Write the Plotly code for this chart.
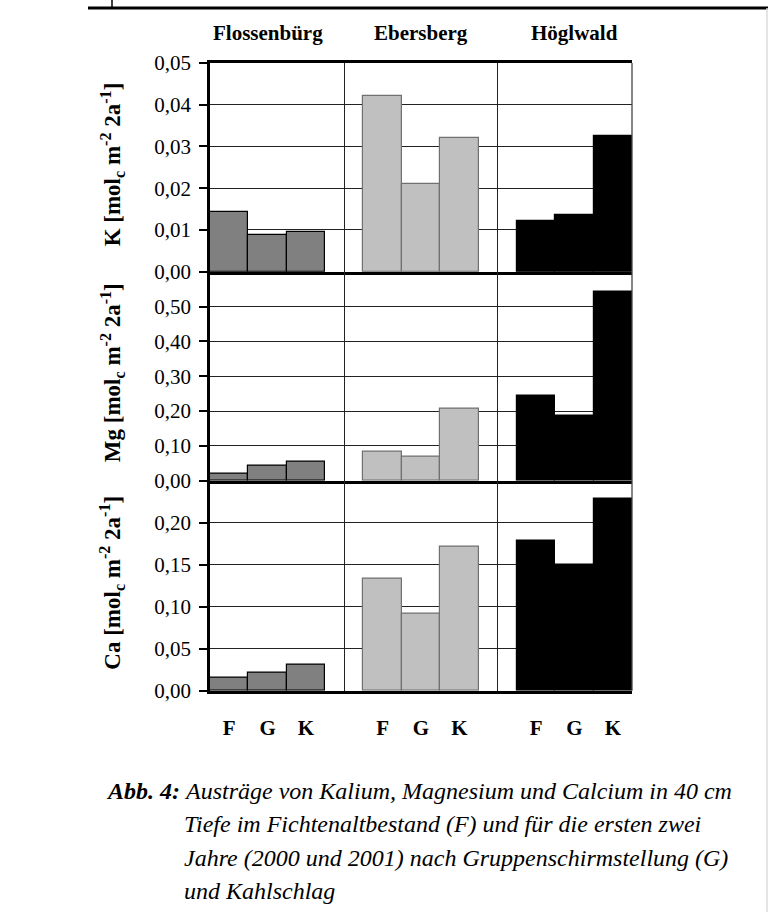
import plotly.graph_objects as go

sites = ["Flossenbürg", "Ebersberg", "Höglwald"]
treatments = ["F", "G", "K"]
site_colors = ["#808080", "#C0C0C0", "#000000"]
site_lines = ["#000000", "#707070", "#000000"]

K_vals = {"Flossenbürg": [0.0142, 0.0087, 0.0094],
          "Ebersberg": [0.0422, 0.0211, 0.0321],
          "Höglwald": [0.0121, 0.0135, 0.0326]}
Mg_vals = {"Flossenbürg": [0.019, 0.044, 0.054],
           "Ebersberg": [0.083, 0.068, 0.206],
           "Höglwald": [0.244, 0.186, 0.543]}
Ca_vals = {"Flossenbürg": [0.015, 0.021, 0.031],
           "Ebersberg": [0.133, 0.092, 0.172],
           "Höglwald": [0.179, 0.150, 0.229]}

panels = [("K", K_vals, [0, 0.05], [0, 0.01, 0.02, 0.03, 0.04, 0.05]),
          ("Mg", Mg_vals, [0, 0.6], [0, 0.1, 0.2, 0.3, 0.4, 0.5]),
          ("Ca", Ca_vals, [0, 0.25], [0, 0.05, 0.1, 0.15, 0.2])]

caption_label = "Abb. 4:"
caption_lines = ["Austräge von Kalium, Magnesium und Calcium in 40 cm",
                 "Tiefe im Fichtenaltbestand (F) und für die ersten zwei",
                 "Jahre (2000 und 2001) nach Gruppenschirmstellung (G)",
                 "und Kahlschlag"]

W, H = 768, 912
def px(x): return x / W
def py(y): return 1 - y / H

x_left, x_right = 210, 632
panel_y = [(63, 271.7), (271.7, 480.7), (480.7, 690.7)]

slot = {}
for i, s in enumerate(sites):
    for j, t in enumerate(treatments):
        slot[(s, t)] = i * 4 + j

fig = go.Figure()
font_serif = "Liberation Serif"

for p, (name, vals, rng, ticks) in enumerate(panels):
    xa = "x" if p == 0 else f"x{p+1}"
    ya = "y" if p == 0 else f"y{p+1}"
    for i, s in enumerate(sites):
        fig.add_trace(go.Bar(
            x=[slot[(s, t)] for t in treatments], y=vals[s], width=1,
            marker=dict(color=site_colors[i], line=dict(color=site_lines[i], width=1.2)),
            xaxis=xa, yaxis=ya, showlegend=False, hoverinfo="x+y"))
    top, bot = panel_y[p]
    xkey = "xaxis" if p == 0 else f"xaxis{p+1}"
    ykey = "yaxis" if p == 0 else f"yaxis{p+1}"
    last = p == 2
    fig.layout[xkey] = dict(
        domain=[px(x_left), px(x_right)], range=[-0.5, 10.5], anchor=ya,
        automargin=False,
        tickmode="array",
        tickvals=[slot[(s, t)] for s in sites for t in treatments],
        ticktext=[f"<b>{t}</b>" for s in sites for t in treatments],
        showticklabels=last, ticks="", showgrid=False, zeroline=False,
        showline=True, linecolor="black", linewidth=2.5,
        mirror=(p == 0),
        tickfont=dict(family=font_serif, size=21, color="black"),
        ticklabelstandoff=16,
        minor=dict(tickmode="array", tickvals=[3, 7], showgrid=True,
                   gridcolor="#222222", gridwidth=1.3, ticks=""),
    )
    fig.layout[ykey] = dict(
        domain=[py(bot), py(top)], range=rng, anchor=xa,
        automargin=False,
        tickmode="array", tickvals=ticks, tickformat=".2f",
        ticks="outside", ticklen=8, tickwidth=2, tickcolor="black",
        showline=True, linecolor="black", linewidth=2.5,
        showgrid=True, gridcolor="#222222", gridwidth=1.1, zeroline=False,
        tickfont=dict(family=font_serif, size=21, color="black"),
        ticklabelstandoff=4,
    )
    fig.add_annotation(
        xref="paper", yref="paper", x=px(112), y=py((top + bot) / 2 - 3),
        xanchor="center", yanchor="middle",
        text=f"<b>{name} [mol<sub>c</sub> m<sup>-2</sup> 2a<sup>-1</sup>]</b>",
        textangle=-90, showarrow=False,
        font=dict(family=font_serif, size=23, color="black"))

fig.add_shape(type="line", xref="paper", yref="paper",
              x0=px(x_right), x1=px(x_right), y0=py(63), y1=py(690.7),
              line=dict(color="#444444", width=1.3))

for i, s in enumerate(sites):
    fig.add_annotation(xref="x", yref="paper", x=i * 4 + 1, y=py(33),
                       xanchor="center", yanchor="middle",
                       text=f"<b>{s}</b>", showarrow=False,
                       font=dict(family=font_serif, size=21, color="black"))

fig.add_shape(type="line", xref="paper", yref="paper", x0=px(88), x1=1,
              y0=py(8), y1=py(8), line=dict(color="black", width=3))
fig.add_shape(type="line", xref="paper", yref="paper", x0=px(112), x1=px(112),
              y0=1, y1=py(8), line=dict(color="black", width=1.5))
fig.add_shape(type="line", xref="paper", yref="paper", x0=px(767), x1=px(767),
              y0=py(8), y1=0, line=dict(color="#DDDDDD", width=1.5))

fig.add_annotation(xref="paper", yref="paper", x=px(104), y=py(791),
                   xanchor="left", yanchor="middle", showarrow=False,
                   text=f"<b><i>{caption_label}</i></b>",
                   font=dict(family=font_serif, size=24, color="black"))
for k, line in enumerate(caption_lines):
    fig.add_annotation(xref="paper", yref="paper", x=px(182), y=py(791 + 33.3 * k),
                       xanchor="left", yanchor="middle", showarrow=False,
                       text=f"<i>{line}</i>",
                       font=dict(family=font_serif, size=24, color="black"))

fig.update_layout(width=W, height=H, margin=dict(l=0, r=0, t=0, b=0, autoexpand=False),
                  paper_bgcolor="white", plot_bgcolor="white",
                  separators=",.", bargap=0, barmode="overlay")

fig.write_html("out.html", config={"displayModeBar": False},
               post_script="document.body.style.margin='0';document.body.style.padding='0';")
